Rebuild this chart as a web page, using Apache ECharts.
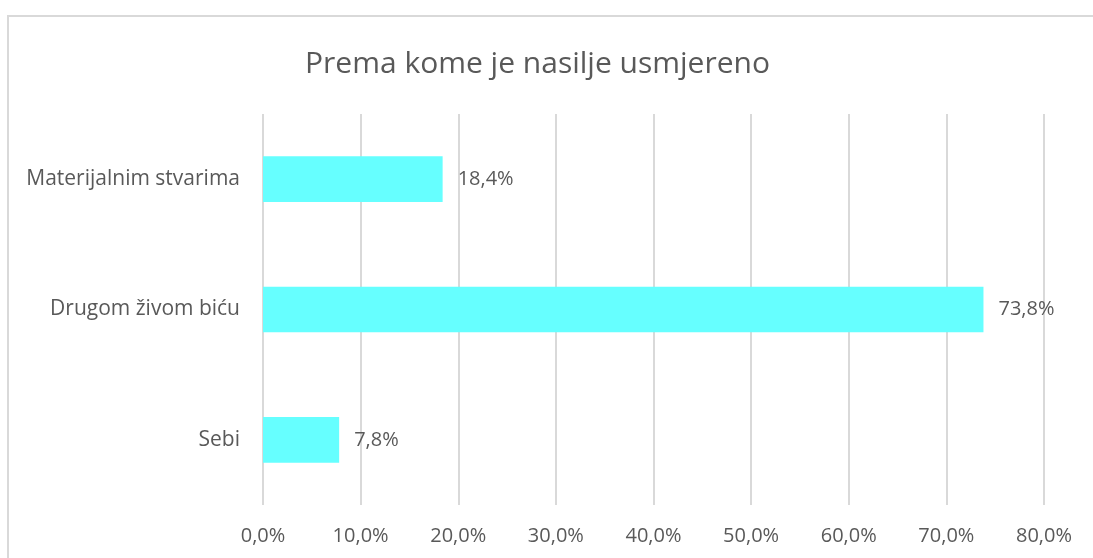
<!DOCTYPE html>
<html>
<head>
<meta charset="utf-8">
<script src="https://cdn.jsdelivr.net/npm/echarts@6/dist/echarts.min.js"></script>
<style>
  html, body { margin: 0; padding: 0; background: #fff; overflow: hidden; }
  #frame { position: absolute; left: 7px; top: 15px; width: 1100px; height: 600px; border: 2px solid #d9d9d9; box-sizing: border-box; }
  #chart { position: absolute; left: 0; top: 0; width: 1093px; height: 558px; }
</style>
</head>
<body>
<div id="frame"></div>
<div id="chart"></div>
<script>
// kategorije odozdo prema gore (kao u Excelu)
var categories = ['Sebi', 'Drugom živom biću', 'Materijalnim stvarima'];
var values = [7.8, 73.8, 18.4];
var axisMax = 80;
var axisStep = 10;

var FONT = '"Open Sans", "Noto Sans", sans-serif';
var TEXT_COLOR = '#595959';

function fmt(v) {
  return v.toFixed(1).replace('.', ',') + '%';
}

var chart = echarts.init(document.getElementById('chart'));
chart.setOption({
  animation: false,
  title: {
    text: 'Prema kome je nasilje usmjereno',
    left: 300,
    top: 44,
    textStyle: { fontFamily: FONT, fontSize: 30, fontWeight: 'normal', color: TEXT_COLOR }
  },
  grid: { left: 263, right: 49, top: 114, bottom: 53 },
  xAxis: {
    type: 'value',
    min: 0,
    max: axisMax,
    interval: axisStep,
    axisLine: { show: false },
    axisTick: { show: false },
    axisLabel: {
      formatter: function(v) { return fmt(v); },
      fontFamily: FONT, fontSize: 20, color: TEXT_COLOR, margin: 21
    },
    splitLine: { lineStyle: { color: '#d9d9d9', width: 2 } }
  },
  yAxis: {
    type: 'category',
    data: categories,
    axisLine: { show: false },
    axisTick: { show: false },
    axisLabel: { fontFamily: FONT, fontSize: 21, color: TEXT_COLOR, margin: 23 }
  },
  series: [{
    type: 'bar',
    data: values,
    barWidth: '35%',
    itemStyle: { color: '#66ffff' },
    label: {
      show: true,
      position: 'right',
      distance: 15,
      formatter: function(p) { return fmt(p.value); },
      fontFamily: FONT, fontSize: 20, color: TEXT_COLOR
    }
  }]
});
</script>
</body>
</html>
